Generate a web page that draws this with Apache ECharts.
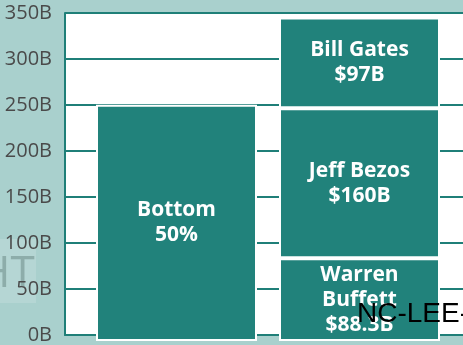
<!DOCTYPE html>
<html>
<head>
<meta charset="utf-8">
<script src="https://cdn.jsdelivr.net/npm/echarts@6/dist/echarts.min.js"></script>
<style>
  html, body { margin: 0; padding: 0; background: #a9d0cd; }
  #chart { width: 463px; height: 345px; }
</style>
</head>
<body>
<div id="chart"></div>
<script>
// Wealth comparison: bottom half of the population vs. three individuals
const categories = ['Bottom 50%', 'Top 3'];
const bottomValues = [252, '-'];
const buffettValues = ['-', 88.3];
const bezosValues = ['-', 160];
const gatesValues = ['-', 97];
const segmentLabels = {
  bottom: 'Bottom\n50%',
  buffett: 'Warren\nBuffett\n$88.3B',
  bezos: 'Jeff Bezos\n$160B',
  gates: 'Bill Gates\n$97B'
};
const yTicks = { min: 0, max: 350, step: 50 };

const TEAL = '#21827b';
const LINE = '#1f7f78';

const chart = echarts.init(document.getElementById('chart'), null, { renderer: 'canvas' });

function segment(name, data, text) {
  return {
    name: name,
    type: 'bar',
    stack: 'total',
    xAxisIndex: 1,
    yAxisIndex: 1,
    barWidth: 161,
    data: data,
    itemStyle: { color: TEAL, borderColor: '#ffffff', borderWidth: 2 },
    label: {
      show: true,
      position: 'inside',
      formatter: () => text,
      color: '#ffffff',
      fontFamily: 'Open Sans',
      fontWeight: 'bold',
      fontSize: 21,
      lineHeight: 25
    },
    emphasis: { disabled: true },
    animation: false
  };
}

chart.setOption({
  backgroundColor: '#a9d0cd',
  animation: false,
  grid: [
    { left: 65, right: 0, top: 13, bottom: 4, show: true, backgroundColor: '#ffffff', borderWidth: 0 },
    { left: 85, right: 12, top: 13, bottom: 4 }
  ],
  xAxis: [
    {
      gridIndex: 0, type: 'category', data: categories,
      axisLine: { show: true, lineStyle: { color: LINE, width: 2 } },
      axisTick: { show: false }, axisLabel: { show: false }
    },
    {
      gridIndex: 1, type: 'category', data: categories,
      axisLine: { show: false }, axisTick: { show: false }, axisLabel: { show: false }
    }
  ],
  yAxis: [
    {
      gridIndex: 0, type: 'value', min: yTicks.min, max: yTicks.max, interval: yTicks.step,
      axisLine: { show: true, lineStyle: { color: LINE, width: 2 } },
      axisTick: { show: false },
      axisLabel: {
        formatter: '{value}B', color: '#4a4a4a', fontFamily: 'Open Sans',
        fontSize: 20, margin: 13
      },
      splitLine: { show: true, lineStyle: { color: LINE, width: 2 } }
    },
    {
      gridIndex: 1, type: 'value', min: yTicks.min, max: yTicks.max, interval: yTicks.step,
      axisLine: { show: false }, axisTick: { show: false }, axisLabel: { show: false },
      splitLine: { show: false }
    }
  ],
  series: [
    segment('Bottom 50%', bottomValues, segmentLabels.bottom),
    segment('Warren Buffett', buffettValues, segmentLabels.buffett),
    segment('Jeff Bezos', bezosValues, segmentLabels.bezos),
    segment('Bill Gates', gatesValues, segmentLabels.gates)
  ],
  graphic: [
    {
      type: 'rect', z: -1, silent: true,
      shape: { x: 0, y: 239, width: 36, height: 64 },
      style: { fill: 'rgba(255,255,255,0.14)' }
    },
    {
      type: 'text', z: -1, silent: true, left: -22, top: 252,
      style: { text: 'HT', fill: '#8dadaa', font: '44px "Open Sans"' }
    },
    {
      type: 'text', z: 100, silent: true, left: 357, top: 300,
      style: { text: 'NC-LEE-', fill: '#000000', font: '28px "Liberation Sans"' }
    }
  ]
});
</script>
</body>
</html>
